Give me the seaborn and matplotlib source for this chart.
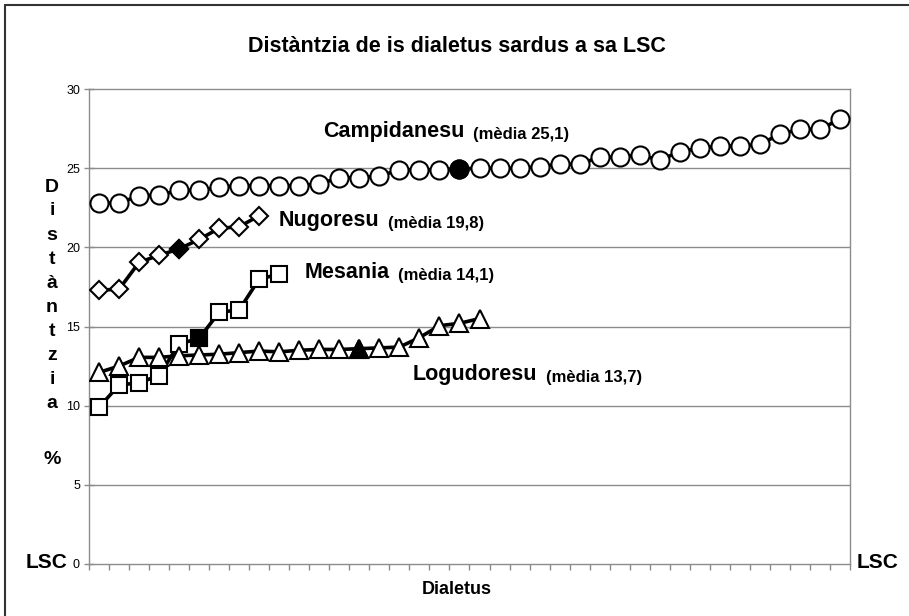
"""
Distàntzia de is dialetus sardus a sa LSC - recreated with seaborn.
"""

import matplotlib

matplotlib.use("Agg")

import matplotlib.pyplot as plt
import numpy as np
import pandas as pd
import seaborn as sns
from matplotlib.lines import Line2D

# values (percent distance from LSC)
campidanesu = [
    22.8, 22.8, 23.25, 23.3, 23.6, 23.6, 23.8, 23.9, 23.9, 23.9,
    23.9, 24.0, 24.4, 24.4, 24.5, 24.9, 24.9, 24.9, 24.95, 25.0,
    25.0, 25.0, 25.1, 25.25, 25.25, 25.7, 25.7, 25.85, 25.5, 26.05,
    26.25, 26.4, 26.4, 26.5, 27.15, 27.45, 27.45, 28.1,
]
nugoresu = [17.3, 17.35, 19.05, 19.5, 19.9, 20.5, 21.2, 21.3, 22.0]
mesania = [9.9, 11.3, 11.45, 11.9, 13.9, 14.25, 15.9, 16.05, 18.0, 18.3]
logudoresu = [
    12.1, 12.5, 13.05, 13.05, 13.15, 13.2, 13.25, 13.35, 13.45, 13.4,
    13.5, 13.55, 13.55, 13.6, 13.65, 13.7, 14.3, 15.05, 15.2, 15.5,
]

series_names = ["Campidanesu", "Nugoresu", "Mesania", "Logudoresu"]
series_values = [campidanesu, nugoresu, mesania, logudoresu]
series_means = ["(mèdia 25,1)", "(mèdia 19,8)", "(mèdia 14,1)", "(mèdia 13,7)"]
highlight_idx = [18, 4, 5, 13]  # the black filled marker of each series
n_dialetus = 38

# marker look per series: (marker, size)
marker_style = {
    "Campidanesu": ("o", 13),
    "Nugoresu": ("D", 9.5),
    "Mesania": ("s", 11.5),
    "Logudoresu": ("^", 13),
}
# label anchor (category position, value) at the text baseline
label_pos = {
    "Campidanesu": (12.18, 26.97),
    "Nugoresu": (9.99, 21.35),
    "Mesania": (11.28, 18.07),
    "Logudoresu": (16.68, 11.62),
}

frames = []
for name, vals in zip(series_names, series_values):
    frames.append(pd.DataFrame({
        "serie": name,
        "dialetu": np.arange(1, len(vals) + 1),
        "distantzia": vals,
    }))
df = pd.concat(frames, ignore_index=True)

sns.set_theme(style="white")
plt.rcParams["font.family"] = ["Liberation Sans", "DejaVu Sans"]
plt.rcParams["text.color"] = "black"
plt.rcParams["xtick.color"] = "black"
plt.rcParams["ytick.color"] = "black"

W, H = 909, 616
fig = plt.figure(figsize=(W / 100, H / 100), dpi=100, facecolor="white")
ax = fig.add_axes([89 / W, 1 - 564 / H, (850 - 89) / W, (564 - 89) / H])
ax.set_facecolor("white")

grid_color = "#8c8c8c"
for y in range(5, 30, 5):
    ax.axhline(y, color=grid_color, lw=1.0, zorder=0)

for name, hi in zip(series_names, highlight_idx):
    sub = df[df["serie"] == name]
    marker, ms = marker_style[name]
    sns.lineplot(
        data=sub, x="dialetu", y="distantzia", ax=ax,
        color="black", lw=2.6, marker=marker, markersize=ms,
        markerfacecolor="white", markeredgecolor="black",
        markeredgewidth=1.5, sort=False, zorder=3,
    )
    sns.lineplot(
        data=sub.iloc[[hi]], x="dialetu", y="distantzia", ax=ax,
        color="black", lw=0, marker=marker, markersize=ms,
        markerfacecolor="black", markeredgecolor="black",
        markeredgewidth=1.5, zorder=4,
    )

for name, mean_txt in zip(series_names, series_means):
    x0, y0 = label_pos[name]
    t = ax.text(x0, y0, name, fontsize=15.5, fontweight="bold",
                color="black", ha="left", va="baseline", zorder=5)
    ax.annotate(mean_txt, xy=(1, 0), xycoords=t, xytext=(6, 0),
                textcoords="offset points", fontsize=12, fontweight="bold",
                color="black", ha="left", va="bottom", zorder=5)

ax.set_xlim(0.5, n_dialetus + 0.5)
ax.set_ylim(0, 30)
ax.set_xticks(np.arange(0.5, n_dialetus + 1, 1))
ax.set_xticklabels([])
ax.set_yticks(range(0, 31, 5))
ax.tick_params(axis="x", direction="out", length=4, width=1, color=grid_color,
               bottom=True)
ax.tick_params(axis="y", direction="inout", length=7, width=1, color=grid_color,
               left=True, labelsize=9, pad=3, labelcolor="black")
ax.set_xlabel("")
ax.set_ylabel("")
for side in ["left", "right", "top", "bottom"]:
    ax.spines[side].set_color(grid_color)
    ax.spines[side].set_linewidth(1.0)

# texts around the plot
fig.text(457 / W, 1 - 47 / H, "Distàntzia de is dialetus sardus a sa LSC",
         fontsize=15.5, fontweight="bold", ha="center", va="center")
fig.text(457 / W, 1 - 590 / H, "Dialetus", fontsize=13, fontweight="bold",
         ha="center", va="center")
fig.text(47 / W, 1 - 563 / H, "LSC", fontsize=15, fontweight="bold",
         ha="center", va="center")
fig.text(878 / W, 1 - 563 / H, "LSC", fontsize=15, fontweight="bold",
         ha="center", va="center")

letters = list("Distàntzia") + ["", "%"]
for i, ch in enumerate(letters):
    if not ch:
        continue
    y = 187 + i * 24 + (9 if ch == "%" else 0)
    fig.text(52 / W, 1 - y / H, ch, fontsize=14, fontweight="bold",
             ha="center", va="center")

# frame lines of the original sheet (left and top only)
fig.add_artist(Line2D([5 / W, 5 / W], [0, 1 - 5 / H], color="#333333", lw=1.5))
fig.add_artist(Line2D([5 / W, 1], [1 - 5 / H, 1 - 5 / H], color="#333333", lw=1.5))

fig.savefig("out.png", dpi=100)
